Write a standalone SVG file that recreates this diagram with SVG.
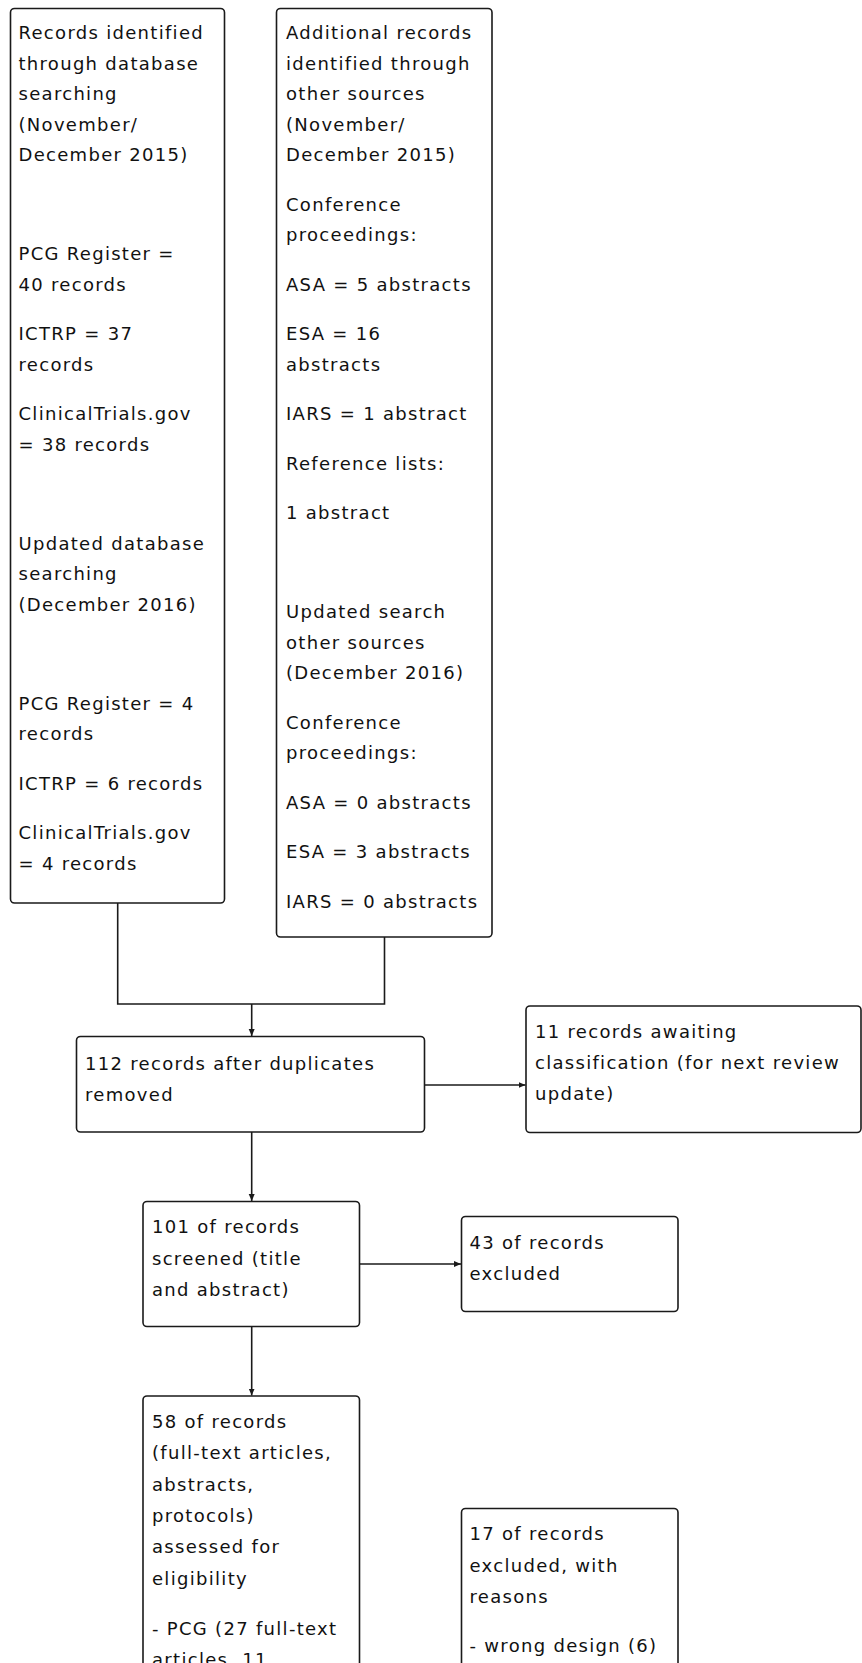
<svg xmlns="http://www.w3.org/2000/svg" width="862" height="1663" viewBox="0 0 862 1663">
<defs>
<style>
.box{fill:#fff;stroke:#1a1a1a;stroke-width:1.6}
.t{font-family:"DejaVu Sans",Verdana,sans-serif;font-size:18px;letter-spacing:1.3px;fill:#111}
.c{fill:none;stroke:#1a1a1a;stroke-width:1.6}
</style>
<marker id="ah" markerWidth="8" markerHeight="8" refX="7" refY="4" orient="auto" markerUnits="userSpaceOnUse">
<path d="M0,1 L7,4 L0,7 z" fill="#1a1a1a"/>
</marker>
</defs>
<rect width="862" height="1663" fill="#fff"/>

<g id="connectors">
<path class="c" d="M117.7,903 V1004 H384.5 V937"/>
<path class="c" d="M251.7,1004 V1036" marker-end="url(#ah)"/>
<path class="c" d="M424.5,1085 H525.5" marker-end="url(#ah)"/>
<path class="c" d="M251.7,1132 V1201" marker-end="url(#ah)"/>
<path class="c" d="M359.5,1264 H461" marker-end="url(#ah)"/>
<path class="c" d="M251.7,1326.5 V1395.5" marker-end="url(#ah)"/>
</g>

<g id="n1">
<rect class="box" x="10.5" y="8.5" width="214" height="894.5" rx="4"/>
<text class="t" x="18.5" y="39">Records identified</text>
<text class="t" x="18.5" y="69.5">through database</text>
<text class="t" x="18.5" y="100">searching</text>
<text class="t" x="18.5" y="130.5">(November/</text>
<text class="t" x="18.5" y="161">December 2015)</text>
<text class="t" x="18.5" y="260">PCG Register =</text>
<text class="t" x="18.5" y="290.5">40 records</text>
<text class="t" x="18.5" y="340">ICTRP = 37</text>
<text class="t" x="18.5" y="370.5">records</text>
<text class="t" x="18.5" y="420">ClinicalTrials.gov</text>
<text class="t" x="18.5" y="450.5">= 38 records</text>
<text class="t" x="18.5" y="549.5">Updated database</text>
<text class="t" x="18.5" y="580">searching</text>
<text class="t" x="18.5" y="610.5">(December 2016)</text>
<text class="t" x="18.5" y="709.5">PCG Register = 4</text>
<text class="t" x="18.5" y="740">records</text>
<text class="t" x="18.5" y="789.5">ICTRP = 6 records</text>
<text class="t" x="18.5" y="839">ClinicalTrials.gov</text>
<text class="t" x="18.5" y="869.5">= 4 records</text>
</g>

<g id="n2">
<rect class="box" x="276.5" y="8.5" width="215.5" height="928.5" rx="4"/>
<text class="t" x="286" y="39">Additional records</text>
<text class="t" x="286" y="69.5">identified through</text>
<text class="t" x="286" y="100">other sources</text>
<text class="t" x="286" y="130.5">(November/</text>
<text class="t" x="286" y="161">December 2015)</text>
<text class="t" x="286" y="210.5">Conference</text>
<text class="t" x="286" y="241">proceedings:</text>
<text class="t" x="286" y="290.5">ASA = 5 abstracts</text>
<text class="t" x="286" y="340">ESA = 16</text>
<text class="t" x="286" y="370.5">abstracts</text>
<text class="t" x="286" y="420">IARS = 1 abstract</text>
<text class="t" x="286" y="469.5">Reference lists:</text>
<text class="t" x="286" y="519">1 abstract</text>
<text class="t" x="286" y="618">Updated search</text>
<text class="t" x="286" y="648.5">other sources</text>
<text class="t" x="286" y="679">(December 2016)</text>
<text class="t" x="286" y="728.5">Conference</text>
<text class="t" x="286" y="759">proceedings:</text>
<text class="t" x="286" y="808.5">ASA = 0 abstracts</text>
<text class="t" x="286" y="858">ESA = 3 abstracts</text>
<text class="t" x="286" y="907.5">IARS = 0 abstracts</text>
</g>

<g id="n3">
<rect class="box" x="76.5" y="1036.5" width="348" height="95.5" rx="4"/>
<text class="t" x="85" y="1070">112 records after duplicates</text>
<text class="t" x="85" y="1100.5">removed</text>
</g>

<g id="n4">
<rect class="box" x="526" y="1006" width="335" height="126.5" rx="4"/>
<text class="t" x="535" y="1037.5">11 records awaiting</text>
<text class="t" x="535" y="1068.5">classification (for next review</text>
<text class="t" x="535" y="1099.5">update)</text>
</g>

<g id="n5">
<rect class="box" x="143" y="1201.5" width="216.5" height="125" rx="4"/>
<text class="t" x="152" y="1233">101 of records</text>
<text class="t" x="152" y="1264.5">screened (title</text>
<text class="t" x="152" y="1296">and abstract)</text>
</g>

<g id="n6">
<rect class="box" x="461.5" y="1216.5" width="216.5" height="95" rx="4"/>
<text class="t" x="469.5" y="1248.5">43 of records</text>
<text class="t" x="469.5" y="1280">excluded</text>
</g>

<g id="n7">
<rect class="box" x="143" y="1396" width="216.5" height="300" rx="4"/>
<text class="t" x="152" y="1428">58 of records</text>
<text class="t" x="152" y="1459.3">(full-text articles,</text>
<text class="t" x="152" y="1490.6">abstracts,</text>
<text class="t" x="152" y="1521.9">protocols)</text>
<text class="t" x="152" y="1553.2">assessed for</text>
<text class="t" x="152" y="1584.5">eligibility</text>
<text class="t" x="152" y="1634.5">- PCG (27 full-text</text>
<text class="t" x="152" y="1665.8">articles, 11</text>
</g>

<g id="n8">
<rect class="box" x="461.5" y="1508.5" width="216.5" height="200" rx="4"/>
<text class="t" x="469.5" y="1540">17 of records</text>
<text class="t" x="469.5" y="1571.5">excluded, with</text>
<text class="t" x="469.5" y="1603">reasons</text>
<text class="t" x="469.5" y="1651.5">- wrong design (6)</text>
</g>
</svg>
